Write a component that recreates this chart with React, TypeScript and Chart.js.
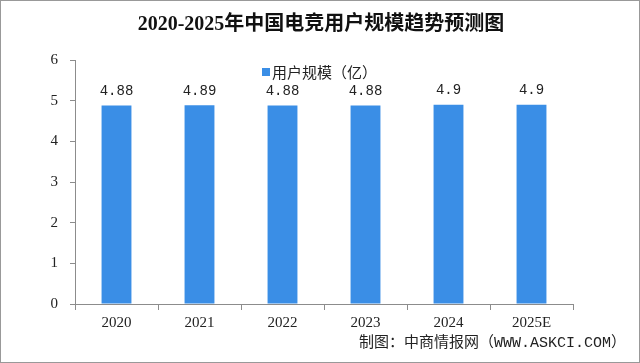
import React, { useEffect, useRef } from "react";
import { Chart, registerables } from "chart.js";

Chart.register(...registerables);

const categories = ["2020", "2021", "2022", "2023", "2024", "2025E"];
const userScale = [4.88, 4.89, 4.88, 4.88, 4.9, 4.9];
const valueLabels = ["4.88", "4.89", "4.88", "4.88", "4.9", "4.9"];
const yTicks = [0, 1, 2, 3, 4, 5, 6];

const titleText = "2020-2025年中国电竞用户规模趋势预测图";
const legendText = "用户规模（亿）";
const sourceText = "制图：中商情报网（WWW.ASKCI.COM）";

const BAR = "#3a8ee6";
const AXIS = "#8c8c8c";

const decorPlugin = {
  id: "decor",
  afterDraw(chart: any) {
    const ctx = chart.ctx;
    const meta = chart.getDatasetMeta(0);
    ctx.save();
    // data labels
    ctx.fillStyle = "#222";
    ctx.font = "14px 'Liberation Mono', 'Noto Sans CJK SC'";
    ctx.textAlign = "center";
    ctx.textBaseline = "bottom";
    meta.data.forEach((bar: any, i: number) => {
      ctx.fillText(valueLabels[i], bar.x, bar.y - 7);
    });
    // title
    ctx.fillStyle = "#111";
    ctx.font = "bold 20px 'Liberation Serif', 'Noto Sans CJK SC'";
    ctx.textAlign = "center";
    ctx.textBaseline = "middle";
    ctx.fillText(titleText, 321, 25);
    // legend
    ctx.fillStyle = BAR;
    ctx.fillRect(262, 68, 8, 8);
    ctx.fillStyle = "#222";
    ctx.font = "15px 'Noto Sans CJK SC'";
    ctx.textAlign = "left";
    ctx.fillText(legendText, 272, 72);
    // source
    ctx.font = "15px 'Liberation Mono', 'Noto Sans CJK SC'";
    ctx.textAlign = "right";
    ctx.fillText(sourceText, 626, 343);
    // border
    ctx.strokeStyle = "#999";
    ctx.lineWidth = 1;
    ctx.strokeRect(0.5, 0.5, chart.width - 1, chart.height - 1);
    ctx.restore();
  },
};

export default function App() {
  const ref = useRef<HTMLCanvasElement | null>(null);
  useEffect(() => {
    document.body.style.margin = "0";
    const chart = new Chart(ref.current!, {
      type: "bar",
      data: {
        labels: categories,
        datasets: [
          {
            label: legendText,
            data: userScale,
            backgroundColor: BAR,
            categoryPercentage: 1,
            barPercentage: 0.36,
          },
        ],
      },
      options: {
        responsive: false,
        animation: false,
        layout: { padding: { left: 0, right: 67, top: 60, bottom: 0 } },
        plugins: {
          legend: { display: false },
          title: { display: false },
          tooltip: { enabled: false },
        },
        scales: {
          x: {
            afterFit: (s: any) => {
              s.height = 59;
            },
            grid: {
              display: true,
              offset: true,
              drawOnChartArea: false,
              drawTicks: true,
              tickLength: 6,
              color: AXIS,
            },
            border: { color: AXIS, width: 1 },
            ticks: {
              color: "#222",
              font: { family: "'Liberation Serif'", size: 15 },
              padding: 4,
            },
          },
          y: {
            min: 0,
            max: 6,
            afterFit: (s: any) => {
              s.width = 75;
            },
            afterBuildTicks: (s: any) => {
              s.ticks = yTicks.map((v) => ({ value: v }));
            },
            grid: {
              display: true,
              drawOnChartArea: false,
              drawTicks: true,
              tickLength: 5,
              color: AXIS,
            },
            border: { color: AXIS, width: 1 },
            ticks: {
              color: "#222",
              font: { family: "'Liberation Serif'", size: 15 },
              padding: 12,
            },
          },
        },
      },
      plugins: [decorPlugin],
    });
    return () => chart.destroy();
  }, []);
  return <canvas ref={ref} width={640} height={363} style={{ display: "block" }} />;
}
